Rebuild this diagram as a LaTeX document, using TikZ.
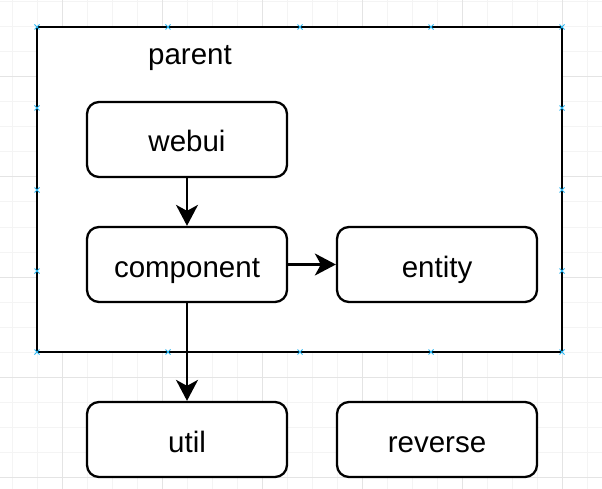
\documentclass[tikz,border=0pt]{standalone}
\usepackage{fontspec}
\setmainfont{Liberation Sans}
\usetikzlibrary{arrows.meta}

\definecolor{minorgrid}{HTML}{F4F4F4}
\definecolor{majorgrid}{HTML}{E4E4E4}
\definecolor{handleblue}{HTML}{29B6F2}

\tikzset{
    labeltext/.style={font=\fontsize{29.5}{34}\selectfont,text height=25pt,text depth=0pt},
    modbox/.style={labeltext,draw=black,line width=2.3pt,rounded corners=12pt,fill=white,
        minimum width=200pt,minimum height=75pt,inner sep=0pt},
    parentbox/.style={draw=black,line width=2.8pt,fill=white,
        minimum width=525pt,minimum height=325pt,inner sep=0pt},
    handle/.style={draw=handleblue,line width=0.9pt}
}

\begin{document}
\begin{tikzpicture}[x=1pt,y=-1pt]
        \useasboundingbox (0,0) rectangle (602,489);

        % grid
        \foreach \x in {12,37,...,600} \draw[minorgrid,line width=1pt] (\x,0) -- (\x,489);
        \foreach \y in {2,27,...,489} \draw[minorgrid,line width=1pt] (0,\y) -- (602,\y);
        \foreach \x in {62,162,...,600} \draw[majorgrid,line width=1pt] (\x,0) -- (\x,489);
        \foreach \y in {77,177,...,489} \draw[majorgrid,line width=1pt] (0,\y) -- (602,\y);

        \node[parentbox] (parent) at (299.5,189.5) {};
        \node[labeltext,inner sep=0pt] (parentlabel) at (190,52.5) {parent};

        % handles
        \foreach \x in {37,168,300,431,562} {
            \draw[handle] (\x,27) +(-2.5,-2.5) -- +(2.5,2.5) +(-2.5,2.5) -- +(2.5,-2.5);
            \draw[handle] (\x,352) +(-2.5,-2.5) -- +(2.5,2.5) +(-2.5,2.5) -- +(2.5,-2.5);
        }
        \foreach \y in {108,190,271} {
            \draw[handle] (37,\y) +(-2.5,-2.5) -- +(2.5,2.5) +(-2.5,2.5) -- +(2.5,-2.5);
            \draw[handle] (562,\y) +(-2.5,-2.5) -- +(2.5,2.5) +(-2.5,2.5) -- +(2.5,-2.5);
        }

        \begin{scope}[every node/.style={modbox}]
            \node (webui) at (187,139.5) {webui};
            \node (component) at (187,264.5) {component};
            \node (entity) at (437,264.5) {entity};
            \node (util) at (187,439.5) {util};
            \node (reverse) at (437,439.5) {reverse};
        \end{scope}

        \begin{scope}[>={Stealth[length=21pt,width=22pt,inset=6pt]},
                    every edge/.style={draw=black,line width=2.3pt}]
            \path [->] (webui) edge (component);
            \path [->] (component) edge (entity);
            \path [->] (component) edge (util);
        \end{scope}
    \end{tikzpicture}
\end{document}
